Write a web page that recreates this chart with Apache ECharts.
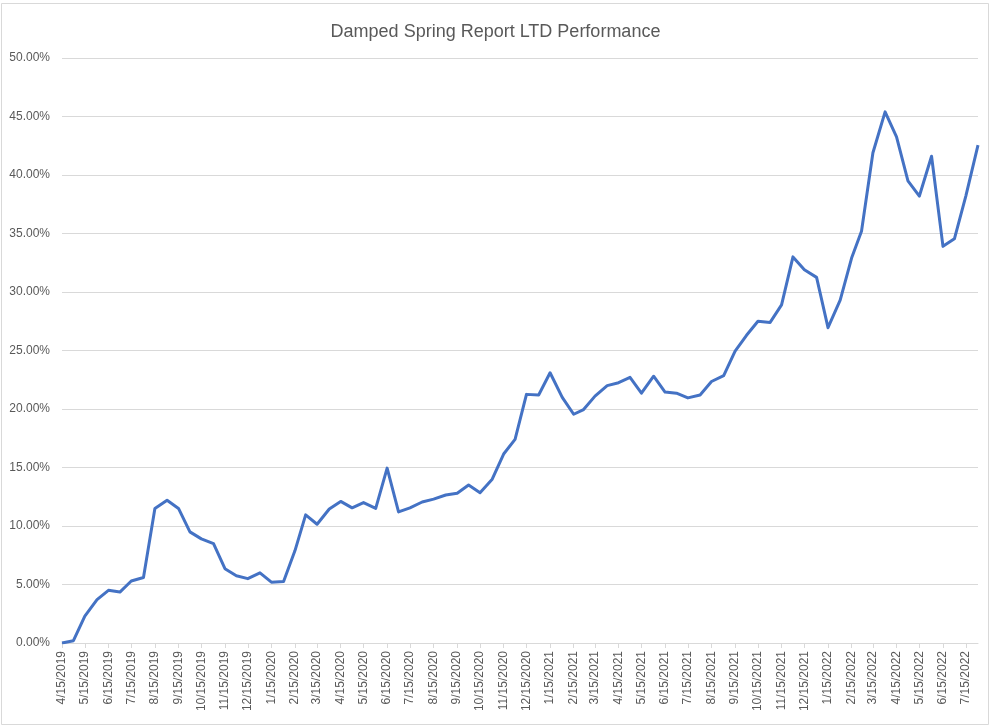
<!DOCTYPE html>
<html>
<head>
<meta charset="utf-8">
<script src="https://cdn.jsdelivr.net/npm/echarts@6/dist/echarts.min.js"></script>
<style>
  html, body { margin: 0; padding: 0; background: #ffffff; }
  #chart { width: 991px; height: 726px; }
</style>
</head>
<body>
<div id="chart"></div>
<script>
const chartTitle = 'Damped Spring Report LTD Performance';

const dates = [
  '2019-04-15','2019-04-30','2019-05-15','2019-05-31','2019-06-15','2019-06-30',
  '2019-07-15','2019-07-31','2019-08-15','2019-08-31','2019-09-15','2019-09-30',
  '2019-10-15','2019-10-31','2019-11-15','2019-11-30','2019-12-15','2019-12-31',
  '2020-01-15','2020-01-31','2020-02-15','2020-02-29','2020-03-15','2020-03-31',
  '2020-04-15','2020-04-30','2020-05-15','2020-05-31','2020-06-15','2020-06-30',
  '2020-07-15','2020-07-31','2020-08-15','2020-08-31','2020-09-15','2020-09-30',
  '2020-10-15','2020-10-31','2020-11-15','2020-11-30','2020-12-15','2020-12-31',
  '2021-01-15','2021-01-31','2021-02-15','2021-02-28','2021-03-15','2021-03-31',
  '2021-04-15','2021-04-30','2021-05-15','2021-05-31','2021-06-15','2021-06-30',
  '2021-07-15','2021-07-31','2021-08-15','2021-08-31','2021-09-15','2021-09-30',
  '2021-10-15','2021-10-31','2021-11-15','2021-11-30','2021-12-15','2021-12-31',
  '2022-01-15','2022-01-31','2022-02-15','2022-02-28','2022-03-15','2022-03-31',
  '2022-04-15','2022-04-30','2022-05-15','2022-05-31','2022-06-15','2022-06-30',
  '2022-07-15','2022-07-31'
];

// LTD performance, percent
const performance = [
  0.00, 0.20, 2.30, 3.70, 4.50, 4.35,
  5.30, 5.60, 11.50, 12.20, 11.50, 9.50,
  8.90, 8.50, 6.35, 5.75, 5.50, 6.00,
  5.20, 5.25, 7.90, 10.95, 10.15, 11.45,
  12.10, 11.55, 12.00, 11.50, 14.95, 11.20,
  11.55, 12.05, 12.30, 12.65, 12.80, 13.50,
  12.85, 14.00, 16.15, 17.40, 21.25, 21.20,
  23.10, 21.00, 19.55, 19.95, 21.10, 22.00,
  22.25, 22.70, 21.35, 22.80, 21.45, 21.35,
  20.95, 21.20, 22.35, 22.85, 24.95, 26.30,
  27.50, 27.40, 28.90, 33.00, 31.90, 31.25,
  26.95, 29.30, 32.90, 35.20, 41.90, 45.40,
  43.25, 39.50, 38.20, 41.60, 33.90, 34.55,
  38.20, 42.55
];

const xTickLabels = [
  '4/15/2019','5/15/2019','6/15/2019','7/15/2019','8/15/2019','9/15/2019',
  '10/15/2019','11/15/2019','12/15/2019','1/15/2020','2/15/2020','3/15/2020',
  '4/15/2020','5/15/2020','6/15/2020','7/15/2020','8/15/2020','9/15/2020',
  '10/15/2020','11/15/2020','12/15/2020','1/15/2021','2/15/2021','3/15/2021',
  '4/15/2021','5/15/2021','6/15/2021','7/15/2021','8/15/2021','9/15/2021',
  '10/15/2021','11/15/2021','12/15/2021','1/15/2022','2/15/2022','3/15/2022',
  '4/15/2022','5/15/2022','6/15/2022','7/15/2022'
];

// day numbers (UTC days since epoch) so the axis is a plain numeric scale
function dayMDY(s) {
  const p = s.split('/');
  return Date.UTC(+p[2], +p[0] - 1, +p[1]) / 86400000;
}
function dayISO(s) {
  const p = s.split('-');
  return Date.UTC(+p[0], +p[1] - 1, +p[2]) / 86400000;
}
const tickDays = xTickLabels.map(dayMDY);
const labelByDay = {};
tickDays.forEach((t, i) => { labelByDay[t] = xTickLabels[i]; });

const FONT = 'Liberation Sans';
const chart = echarts.init(document.getElementById('chart'), null, { renderer: 'canvas' });

chart.setOption({
  animation: false,
  backgroundColor: '#ffffff',
  title: {
    text: chartTitle,
    left: 'center',
    top: 18,
    textStyle: { fontFamily: FONT, fontSize: 18, fontWeight: 'normal', color: '#595959' }
  },
  graphic: [{
    type: 'rect',
    shape: { x: 1.5, y: 3.5, width: 987, height: 721 },
    style: { fill: 'none', stroke: '#d9d9d9', lineWidth: 1 },
    silent: true
  }],
  grid: { left: 62, right: 13, top: 58, bottom: 83, containLabel: false },
  xAxis: {
    type: 'value',
    min: dayISO(dates[0]),
    max: dayISO(dates[dates.length - 1]),
    scale: true,
    axisLine: { show: true, onZero: false, lineStyle: { color: '#d9d9d9', width: 1 } },
    axisTick: { show: true, customValues: tickDays, length: 5, lineStyle: { color: '#d9d9d9' } },
    splitLine: { show: false },
    axisLabel: {
      customValues: tickDays,
      rotate: 90,
      margin: 8,
      hideOverlap: false,
      showMinLabel: true,
      showMaxLabel: true,
      fontFamily: FONT,
      fontSize: 12,
      color: '#595959',
      formatter: function (v) { return labelByDay[Math.round(v)] || ''; }
    }
  },
  yAxis: {
    type: 'value',
    min: 0,
    max: 50,
    interval: 5,
    axisLine: { show: false },
    axisTick: { show: false },
    splitLine: { show: true, lineStyle: { color: '#d9d9d9', width: 1 } },
    axisLabel: {
      margin: 12,
      fontFamily: FONT,
      fontSize: 12,
      color: '#595959',
      formatter: function (v) { return v.toFixed(2) + '%'; }
    }
  },
  series: [{
    type: 'line',
    data: dates.map((d, i) => [dayISO(d), performance[i]]),
    showSymbol: false,
    symbol: 'none',
    lineStyle: { color: '#4472C4', width: 3, join: 'round' },
    itemStyle: { color: '#4472C4' }
  }]
});
</script>
</body>
</html>
